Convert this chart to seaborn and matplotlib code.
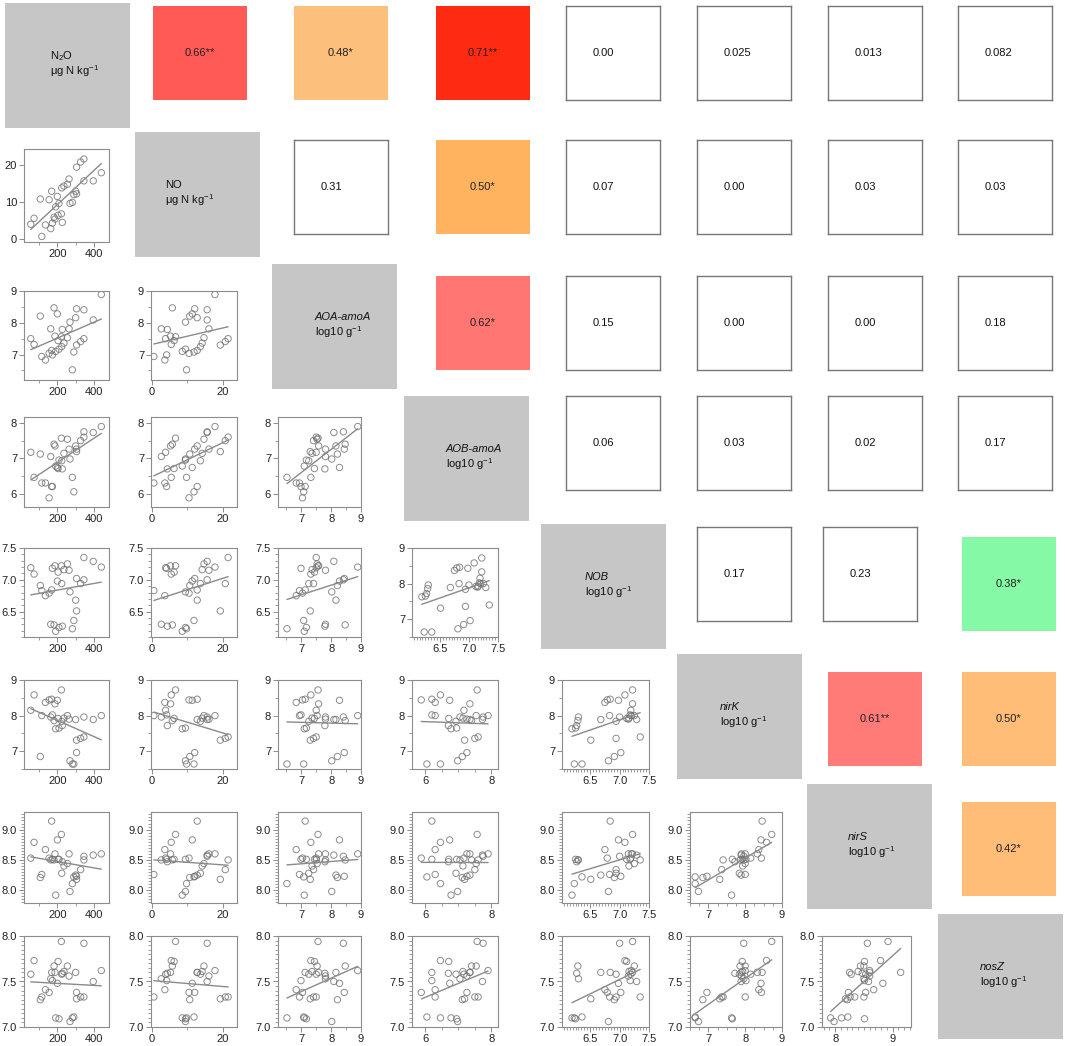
import numpy as np
import pandas as pd
import matplotlib
matplotlib.use("Agg")
import matplotlib.pyplot as plt
import seaborn as sns
from matplotlib.ticker import MultipleLocator, FixedLocator, FormatStrFormatter

# ---------------- data (one value per soil sample) ----------------
N2O = [55, 73, 107, 115, 135, 155, 169, 200, 187, 222, 164, 173, 182, 191, 209, 204,
       227, 224, 236, 264, 269, 282, 290, 305, 300, 305, 327, 345, 345, 396, 440, 255]
NO = [3.9, 5.5, 10.7, 0.6, 3.7, 10.5, 12.8, 11.4, 5.3, 6.7, 2.7, 4.2, 5.8, 8.6, 9.5, 6.3,
      4.4, 13.7, 14.2, 16.1, 9.5, 9.8, 11.9, 12.1, 12.8, 19.3, 20.7, 21.5, 15.6, 15.6, 17.8, 14.7]
AOA = [7.5, 7.32, 8.21, 6.94, 6.83, 7.04, 7.13, 8.28, 7.58, 7.56, 7.81, 6.99, 8.47, 7.1, 7.17, 7.44,
       7.79, 7.25, 7.36, 7.81, 8.02, 6.52, 7.08, 8.44, 8.16, 7.3, 7.41, 7.5, 8.41, 8.09, 8.89, 7.53]
AOB = [7.17, 6.46, 7.12, 6.3, 6.3, 5.88, 6.2, 6.74, 7.35, 7.57, 7.05, 6.2, 7.4, 6.78, 6.95, 6.71,
       6.7, 6.93, 7.14, 7.26, 6.98, 6.46, 6.05, 7.26, 7.35, 7.19, 7.5, 7.6, 7.75, 7.73, 7.9, 7.54]
NOB = [7.19, 7.09, 6.91, 6.83, 6.75, 6.79, 6.84, 6.98, 7.22, 7.22, 6.30, 7.18, 6.29, 6.19, 6.25, 7.12,
       6.27, 6.94, 7.16, 7.15, 6.81, 6.23, 6.36, 7.02, 6.68, 6.51, 6.94, 7.35, 7.0, 7.29, 7.2, 7.25]
nirK = [8.15, 8.58, 6.85, 8.0, 8.37, 8.44, 8.46, 8.43, 8.33, 8.72, 7.96, 8.02, 7.86, 7.63, 7.65, 7.92,
        7.72, 7.84, 7.93, 7.9, 6.73, 6.64, 6.64, 6.96, 7.89, 7.31, 7.36, 7.4, 7.96, 7.89, 8.0, 8.0]
nirS = [8.53, 8.79, 8.21, 8.26, 8.67, 8.53, 9.14, 8.83, 8.6, 8.92, 8.5, 8.51, 8.5, 7.92, 8.51, 8.51,
        8.47, 8.28, 8.4, 8.6, 7.98, 8.11, 8.22, 8.23, 8.25, 8.18, 8.34, 8.5, 8.56, 8.58, 8.6, 8.44]
nosZ = [7.58, 7.73, 7.3, 7.33, 7.41, 7.38, 7.6, 7.48, 7.6, 7.94, 7.53, 7.51, 7.67, 7.1, 7.09, 7.72,
        7.59, 7.58, 7.61, 7.56, 7.06, 7.1, 7.11, 7.38, 7.6, 7.31, 7.33, 7.33, 7.92, 7.5, 7.62, 7.67]

var_keys = ["N2O", "NO", "AOA", "AOB", "NOB", "nirK", "nirS", "nosZ"]
diag_line1 = ["N$_2$O", "NO", "AOA-amoA", "AOB-amoA", "NOB", "nirK", "nirS", "nosZ"]
diag_line2 = ["μg N kg$^{-1}$", "μg N kg$^{-1}$", "log10 g$^{-1}$", "log10 g$^{-1}$",
              "log10 g$^{-1}$", "log10 g$^{-1}$", "log10 g$^{-1}$", "log10 g$^{-1}$"]
diag_italic = [False, False, True, True, True, True, True, True]

# correlation coefficients shown in the upper triangle (row, col, label)
corr_labels = {
    (0, 1): "0.66**", (0, 2): "0.48*", (0, 3): "0.71**", (0, 4): "0.00", (0, 5): "0.025",
    (0, 6): "0.013", (0, 7): "0.082",
    (1, 2): "0.31", (1, 3): "0.50*", (1, 4): "0.07", (1, 5): "0.00", (1, 6): "0.03", (1, 7): "0.03",
    (2, 3): "0.62*", (2, 4): "0.15", (2, 5): "0.00", (2, 6): "0.00", (2, 7): "0.18",
    (3, 4): "0.06", (3, 5): "0.03", (3, 6): "0.02", (3, 7): "0.17",
    (4, 5): "0.17", (4, 6): "0.23", (4, 7): "0.38*",
    (5, 6): "0.61**", (5, 7): "0.50*",
    (6, 7): "0.42*",
}
corr_colors = {
    (0, 1): "#ff5a55", (0, 2): "#fdbf7c", (0, 3): "#ff2a12", (1, 3): "#ffb35f",
    (2, 3): "#ff7673", (4, 7): "#86f9a7", (5, 6): "#ff7b78", (5, 7): "#ffbd78", (6, 7): "#ffbd78",
}

df = pd.DataFrame({"N2O": N2O, "NO": NO, "AOA": AOA, "AOB": AOB, "NOB": NOB,
                   "nirK": nirK, "nirS": nirS, "nosZ": nosZ})

# ---------------- style ----------------
sns.set_theme(style="white")
plt.rcParams["font.family"] = ["Liberation Sans", "DejaVu Sans"]
plt.rcParams["mathtext.fontset"] = "custom"
plt.rcParams["mathtext.rm"] = "Liberation Sans"
plt.rcParams["mathtext.it"] = "Liberation Sans:italic"
plt.rcParams["mathtext.default"] = "regular"

W, H = 1065, 1046
fig = plt.figure(figsize=(W / 100, H / 100), dpi=100)
fig.patch.set_facecolor("white")


def rect(l, t, r, b):
    return [l / W, 1 - b / H, (r - l) / W, (b - t) / H]


# axis specs: limits, major ticks, minor step, label format
axspec = {
    "N2O": dict(lim=(18, 482), major=[200, 400], minor=100, fmt="%d"),
    "NO": dict(lim=(-0.9, 24.2), major=[0, 10, 20], minor=None, fmt="%d"),
    "AOA": dict(lim=(6.2, 9.0), major=[7, 8, 9], minor=0.5, fmt="%d"),
    "AOB": dict(lim=(5.62, 8.17), major=[6, 7, 8], minor=0.5, fmt="%d"),
    "NOB": dict(lim=(6.1, 7.5), major=[6.5, 7.0, 7.5], minor=0.1, fmt="%.1f"),
    "nirK": dict(lim=(6.5, 9.0), major=[7, 8, 9], minor=0.5, fmt="%d"),
    "nirS": dict(lim=(7.79, 9.29), major=[8.0, 8.5, 9.0], minor=0.05, fmt="%.1f"),
    "nosZ": dict(lim=(7.0, 8.0), major=[7.0, 7.5, 8.0], minor=0.05, fmt="%.1f"),
}
axspec_x = {
    "N2O": dict(lim=(18, 482), major=[200, 400], minor=100, fmt="%d"),
    "NO": dict(lim=(-0.2, 24.0), major=[0, 20], minor=10, fmt="%d"),
    "AOA": dict(lim=(6.22, 9.0), major=[7, 8, 9], minor=0.5, fmt="%d"),
    "AOB": dict(lim=(5.6, 8.2), major=[6, 8], minor=0.5, fmt="%d"),
    "NOB": dict(lim=(6.02, 7.5), major=[6.5, 7.0, 7.5], minor=0.05, fmt="%.1f"),
    "nirK": dict(lim=(6.5, 9.0), major=[7, 8, 9], minor=0.25, fmt="%d"),
    "nirS": dict(lim=(7.77, 9.32), major=[8, 9], minor=0.1, fmt="%d"),
}

col_x = {0: (24, 109), 1: (151, 237), 2: (278, 361), 3: (412, 498), 4: (562, 649),
         5: (690, 782), 6: (822, 911)}
row_y = {1: (149, 242), 2: (291, 380), 3: (417, 507), 4: (548, 637), 5: (680, 769),
         6: (812, 903), 7: (936, 1027)}

SP = "#8c8c8c"
PT = "#6e6e6e"

for i in range(1, 8):
    for j in range(0, i):
        xv, yv = var_keys[j], var_keys[i]
        if (i, j) == (4, 3):          # panel duplicated in the source figure
            xv, yv = "NOB", "nirK"
        l, r = col_x[j]
        t, b = row_y[i]
        ax = fig.add_axes(rect(l, t, r, b))
        sns.regplot(data=df, x=xv, y=yv, ax=ax, ci=None, color=PT,
                    scatter_kws=dict(s=21, facecolors="none", edgecolors=PT, linewidths=0.7),
                    line_kws=dict(color="#8a8a8a", lw=1.0))
        sx = axspec_x[xv]
        sy = axspec[yv]
        ax.set_xlim(sx["lim"])
        ax.set_ylim(sy["lim"])
        ax.xaxis.set_major_locator(FixedLocator(sx["major"]))
        ax.yaxis.set_major_locator(FixedLocator(sy["major"]))
        ax.xaxis.set_major_formatter(FormatStrFormatter(sx["fmt"]))
        ax.yaxis.set_major_formatter(FormatStrFormatter(sy["fmt"]))
        if sx["minor"]:
            ax.xaxis.set_minor_locator(MultipleLocator(sx["minor"]))
        if sy["minor"]:
            ax.yaxis.set_minor_locator(MultipleLocator(sy["minor"]))
        ax.set_xlabel("")
        ax.set_ylabel("")
        ax.set_facecolor("white")
        for s in ax.spines.values():
            s.set_color(SP)
            s.set_linewidth(0.8)
            s.set_visible(True)
        ax.tick_params(which="major", direction="out", length=3.5, width=0.7, color=SP,
                       labelsize=8, labelcolor="#222222", pad=1.5,
                       bottom=True, left=True, top=False, right=False)
        ax.tick_params(which="minor", direction="out", length=2, width=0.6, color=SP,
                       bottom=True, left=True, top=False, right=False)

# ---------------- diagonal label boxes ----------------
diag_pos = [(5, 3), (135, 132), (272, 264), (404, 396), (541, 524), (677, 654), (807, 784), (938, 914)]
diag_dx = [45, 30, 43, 42, 44, 43, 41, 42]
DS = 125
for k in range(8):
    l, t = diag_pos[k]
    ax = fig.add_axes(rect(l, t, l + DS, t + DS))
    ax.set_facecolor("#c6c6c6")
    ax.set_xticks([])
    ax.set_yticks([])
    for s in ax.spines.values():
        s.set_visible(False)
    xo = diag_dx[k] / DS
    ax.text(xo, 1 - 53 / DS, diag_line1[k], transform=ax.transAxes, ha="left", va="center",
            fontsize=8, color="#111111", style="italic" if diag_italic[k] else "normal")
    ax.text(xo, 1 - 68 / DS, diag_line2[k], transform=ax.transAxes, ha="left", va="center",
            fontsize=8, color="#111111")

# ---------------- upper triangle correlation boxes ----------------
up_col = {1: 153, 2: 294, 3: 436, 4: 566, 5: 697, 6: 828, 7: 958}
up_row = {0: 6, 1: 140, 2: 276, 3: 396, 4: 527, 5: 672, 6: 802}
US = 94
for (i, j), lab in corr_labels.items():
    l = up_col[j]
    t = up_row[i]
    if j == 7 and i >= 4:
        l = 962
    if (i, j) == (4, 7):
        t = 537
    if (i, j) == (4, 6):
        l = 823
    ax = fig.add_axes(rect(l, t, l + US, t + US))
    ax.set_xticks([])
    ax.set_yticks([])
    col = corr_colors.get((i, j))
    if col is not None:
        ax.set_facecolor(col)
        for s in ax.spines.values():
            s.set_visible(False)
        ax.text(0.5, 0.5, lab, transform=ax.transAxes, ha="center", va="center",
                fontsize=8, color="#222222")
    else:
        ax.set_facecolor("white")
        for s in ax.spines.values():
            s.set_color("#777777")
            s.set_linewidth(1.0)
        ax.text(27 / US, 0.5, lab, transform=ax.transAxes, ha="left", va="center",
                fontsize=8, color="#111111")

fig.savefig("out.png", dpi=100, facecolor="white")
